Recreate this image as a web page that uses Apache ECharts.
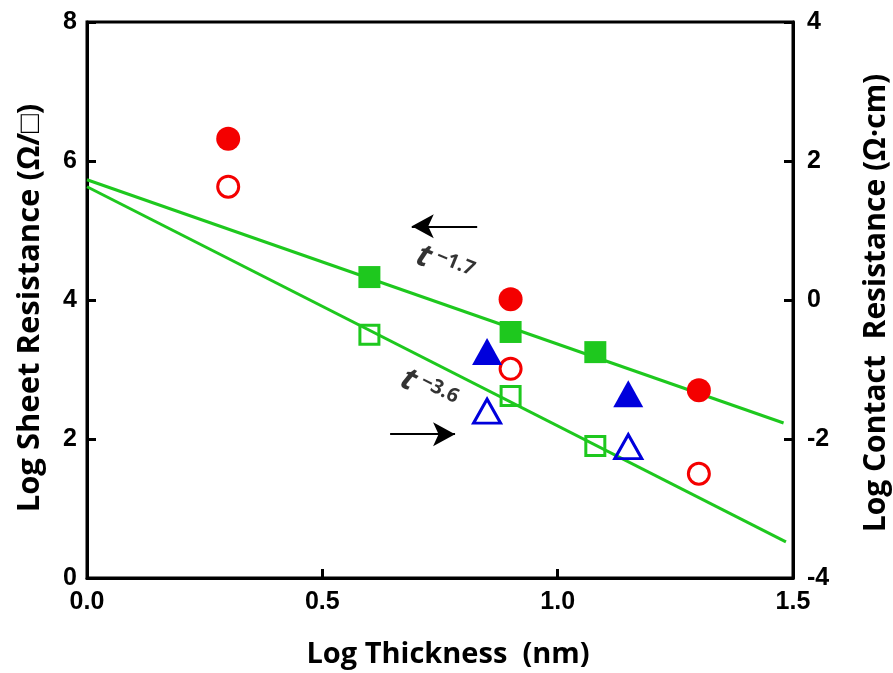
<!DOCTYPE html>
<html>
<head>
<meta charset="utf-8">
<script src="https://cdn.jsdelivr.net/npm/echarts@6/dist/echarts.min.js"></script>
<style>
  html, body { margin: 0; padding: 0; background: #fff; }
  #chart { width: 893px; height: 673px; }
</style>
</head>
<body>
<div id="chart"></div>
<script>
// Log thickness (nm) for each sample group
const circleX = [0.30, 0.90, 1.30];
const squareX = [0.60, 0.90, 1.08];
const triangleX = [0.85, 1.15];

// Log sheet resistance (left axis, Ω/□) — filled markers
const circleSheet = [6.32, 4.01, 2.70];
const squareSheet = [4.33, 3.54, 3.25];
const triangleSheet = [3.26, 2.65];

// Log contact resistance (right axis, Ω·cm) — open markers
const circleContact = [1.63, -0.99, -2.50];
const squareContact = [-0.50, -1.38, -2.10];
const triangleContact = [-1.60, -2.11];

// Power-law fits: t^-1.7 on sheet resistance, t^-3.6 on contact resistance
const sheetFit = [[0, 5.73], [1.48, 2.23]];
const contactFit = [[0, 1.63], [1.485, -3.48]];

// Arrows pointing to the axis each fit belongs to
const sheetArrow = [[0.829, 5.06], [0.690, 5.06]];
const contactArrow = [[0.644, 2.07], [0.782, 2.07]];

// Fit exponent labels
const fitLabels = [
  { pos: [0.760, 4.50], exp: '−1.7', rot: -22 },
  { pos: [0.726, 2.70], exp: '−3.6', rot: -27 }
];

const xTicks = { min: 0, max: 1.5, interval: 0.5 };
const leftTicks = { min: 0, max: 8, interval: 2 };
const rightTicks = { min: -4, max: 4, interval: 2 };

// Axis titles
const xTitle = 'Log Thickness  (nm)';
const leftTitle = 'Log Sheet Resistance (Ω/□)';
const rightTitle = 'Log Contact  Resistance (Ω·cm)';

const RED = '#f40000', GREEN = '#1ec81e', BLUE = '#0000dc';
const tickFont = { fontFamily: 'Liberation Sans, Arial, sans-serif', fontWeight: 'bold', fontSize: 25, color: '#000' };
const TITLE_FAMILY = '"Open Sans", sans-serif';

const zip = (xs, ys) => xs.map((x, i) => [x, ys[i]]);

function filled(name, xs, ys, symbol, size, color) {
  return { name, type: 'scatter', yAxisIndex: 0, symbol, symbolSize: size,
    itemStyle: { color, opacity: 1 }, data: zip(xs, ys), z: 5 };
}
function open(name, xs, ys, symbol, size, color) {
  return { name, type: 'scatter', yAxisIndex: 1, symbol, symbolSize: size,
    itemStyle: { color: 'rgba(255,255,255,0)', borderColor: color, borderWidth: 3, opacity: 1 },
    data: zip(xs, ys), z: 5 };
}
function arrow(pts, yAxisIndex) {
  return { type: 'line', yAxisIndex, data: [], silent: true,
    markLine: { silent: true, animation: false, symbol: ['none', 'arrow'], symbolSize: [18, 22],
      label: { show: false }, lineStyle: { color: '#000', width: 2, type: 'solid' },
      data: [[{ coord: pts[0] }, { coord: pts[1] }]] } };
}
function title(text, x, y, rotation, size) {
  return { type: 'text', x, y, rotation, silent: true,
    style: { text, fontFamily: TITLE_FAMILY, fontWeight: 'bold', fontSize: size, fill: '#000',
      align: 'center', verticalAlign: 'middle' } };
}

const chart = echarts.init(document.getElementById('chart'), null, { renderer: 'canvas' });
chart.setOption({
  animation: false,
  backgroundColor: '#fff',
  grid: { left: 87, right: 100, top: 22, bottom: 95, show: true, borderColor: '#000', borderWidth: 3 },
  graphic: [
    title(xTitle, 448, 655, 0, 29),
    title(leftTitle, 30, 308, Math.PI / 2, 31),
    title(rightTitle, 876, 303, Math.PI / 2, 30)
  ],
  xAxis: {
    type: 'value', min: xTicks.min, max: xTicks.max, interval: xTicks.interval,
    axisLine: { show: true, lineStyle: { color: '#000', width: 3 } },
    axisTick: { show: true, inside: true, length: 9, lineStyle: { color: '#000', width: 3 } },
    axisLabel: Object.assign({ margin: 12, formatter: v => v.toFixed(1) }, tickFont),
    splitLine: { show: false }
  },
  yAxis: [
    {
      type: 'value', position: 'left', min: leftTicks.min, max: leftTicks.max, interval: leftTicks.interval,
      axisLine: { show: true, lineStyle: { color: '#000', width: 3 } },
      axisTick: { show: true, inside: true, length: 9, lineStyle: { color: '#000', width: 3 } },
      axisLabel: Object.assign({ margin: 10 }, tickFont),
      splitLine: { show: false }
    },
    {
      type: 'value', position: 'right', min: rightTicks.min, max: rightTicks.max, interval: rightTicks.interval,
      axisLine: { show: true, lineStyle: { color: '#000', width: 3 } },
      axisTick: { show: true, inside: true, length: 9, lineStyle: { color: '#000', width: 3 } },
      axisLabel: Object.assign({ margin: 14 }, tickFont),
      splitLine: { show: false }
    }
  ],
  series: [
    { type: 'line', yAxisIndex: 0, data: sheetFit, symbol: 'none', lineStyle: { color: GREEN, width: 3 }, z: 3 },
    { type: 'line', yAxisIndex: 1, data: contactFit, symbol: 'none', lineStyle: { color: GREEN, width: 3 }, z: 3 },
    filled('circle sheet', circleX, circleSheet, 'circle', 24, RED),
    open('circle contact', circleX, circleContact, 'circle', 21, RED),
    filled('square sheet', squareX, squareSheet, 'rect', 22, GREEN),
    open('square contact', squareX, squareContact, 'rect', 19, GREEN),
    filled('triangle sheet', triangleX, triangleSheet, 'triangle', [30, 27], BLUE),
    open('triangle contact', triangleX, triangleContact, 'triangle', [27, 24], BLUE),
    arrow(sheetArrow, 0),
    arrow(contactArrow, 0),
    {
      type: 'scatter', yAxisIndex: 0, symbolSize: 0, silent: true, z: 6,
      data: fitLabels.map(f => ({
        value: f.pos,
        label: {
          show: true, position: 'inside', rotate: f.rot,
          formatter: '{t|t}{s| ' + f.exp + '}',
          rich: {
            t: { fontFamily: TITLE_FAMILY, fontStyle: 'italic', fontWeight: 'bold', fontSize: 32, color: '#000' },
            s: { fontFamily: TITLE_FAMILY, fontWeight: 'bold', fontSize: 20, color: '#000', padding: [0, 0, 12, 0] }
          }
        }
      }))
    }
  ]
});
</script>
</body>
</html>
